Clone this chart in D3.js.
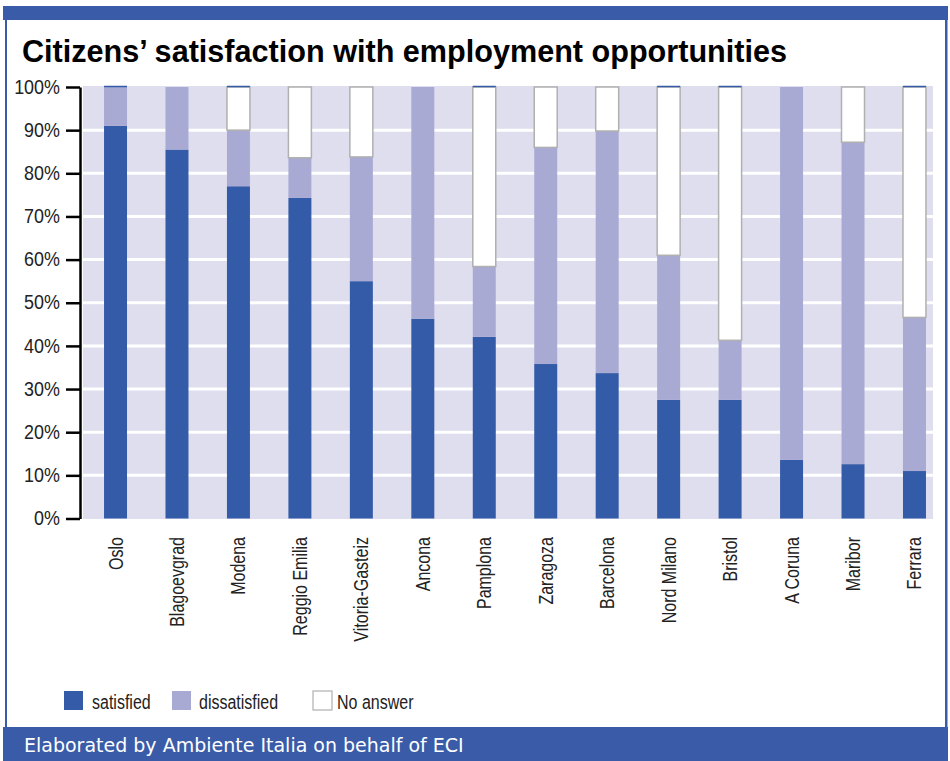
<!DOCTYPE html>
<html><head><meta charset="utf-8">
<script src="https://cdn.jsdelivr.net/npm/d3@7"></script>
<style>
body{margin:0;background:#fff;}
svg{display:block;}
.narrow{font-family:"Liberation Sans",Arial,sans-serif;}
</style></head>
<body>
<svg id="chart" width="950" height="761"></svg>
<script>
const title = "Citizens’ satisfaction with employment opportunities";
const footer = "Elaborated by Ambiente Italia on behalf of ECI";
const categories = ["Oslo","Blagoevgrad","Modena","Reggio Emilia","Vitoria-Gasteiz","Ancona","Pamplona","Zaragoza","Barcelona","Nord Milano","Bristol","A Coruna","Maribor","Ferrara"];
const seriesNames = ["satisfied","dissatisfied","No answer"];
const satisfied    = [91.0, 85.5, 77.0, 74.3, 55.0, 46.3, 42.1, 35.8, 33.7, 27.5, 27.5, 13.6, 12.6, 11.0];
const dissatisfied = [ 9.0, 14.5, 13.0,  9.3, 28.8, 53.7, 16.3, 50.2, 56.1, 33.5, 13.8, 86.4, 74.6, 35.6];
const noAnswer     = [ 0.0,  0.0, 10.0, 16.4, 16.2,  0.0, 41.6, 14.0, 10.2, 39.0, 58.7,  0.0, 12.8, 53.4];
const topCap       = [1,0,1,0,0,0,1,0,0,1,1,0,0,1];
const yTicks = [0,10,20,30,40,50,60,70,80,90,100];

const C_SAT = "#345ba7", C_DIS = "#a8aad4", C_NA = "#ffffff", C_BG = "#dedeee", C_FRAME = "#3a5ba8";
const svg = d3.select("#chart");

// frame
svg.append("rect").attr("x",3).attr("y",6).attr("width",945).attr("height",14).attr("fill",C_FRAME);
svg.append("rect").attr("x",5).attr("y",6).attr("width",2).attr("height",730).attr("fill",C_FRAME);
svg.append("rect").attr("x",945).attr("y",6).attr("width",2.5).attr("height",730).attr("fill",C_FRAME);
svg.append("rect").attr("x",3).attr("y",727).attr("width",945).attr("height",34).attr("fill",C_FRAME);
svg.append("text").attr("x",24).attr("y",752).attr("fill","#fff")
  .style("font-family","'DejaVu Sans',sans-serif").style("font-size","19px").text(footer);

svg.append("text").attr("class","narrow").attr("x",22).attr("y",62).attr("fill","#000")
  .attr("textLength",765).attr("lengthAdjust","spacingAndGlyphs")
  .style("font-size","32px").style("font-weight","bold").text(title);

// scales
const x = d3.scaleBand().domain(categories).range([84.8,945.2]).paddingInner(0.626).paddingOuter(0.313);
const y = d3.scaleLinear().domain([0,100]).range([518.5,87]);

// plot background
svg.append("rect").attr("x",83).attr("y",86).attr("width",850).attr("height",433).attr("fill",C_BG);
svg.append("g").selectAll("line").data(yTicks.filter(t=>t>0&&t<100)).join("line")
  .attr("x1",83).attr("x2",933).attr("y1",d=>y(d)).attr("y2",d=>y(d))
  .attr("stroke","#fff").attr("stroke-width",3);

// stacked data
const rows = categories.map((c,i)=>({cat:c, "satisfied":satisfied[i], "dissatisfied":dissatisfied[i], "No answer":noAnswer[i]}));
const stack = d3.stack().keys(seriesNames)(rows);
const colors = {"satisfied":C_SAT,"dissatisfied":C_DIS,"No answer":C_NA};
stack.forEach(layer=>{
  const g = svg.append("g");
  g.selectAll("rect").data(layer.filter(d=>d[1]-d[0]>0.01)).join("rect")
    .attr("x",d=>x(d.data.cat)).attr("width",x.bandwidth())
    .attr("y",d=>y(d[1])).attr("height",d=>y(d[0])-y(d[1]))
    .attr("fill",colors[layer.key])
    .attr("stroke",layer.key==="No answer"?"#b0b0b0":"none")
    .attr("stroke-width",layer.key==="No answer"?1.5:0);
});
// thin caps
svg.append("g").selectAll("line").data(categories.filter((c,i)=>topCap[i])).join("line")
  .attr("x1",d=>x(d)).attr("x2",d=>x(d)+x.bandwidth()).attr("y1",y(100)-0.5).attr("y2",y(100)-0.5)
  .attr("stroke",C_SAT).attr("stroke-width",1.5);

// y axis
const ax = svg.append("g").attr("transform","translate(80,0)")
  .call(d3.axisLeft(y).tickValues(yTicks).tickFormat(d=>d+"%").tickSize(14).tickSizeOuter(0).tickPadding(6));
ax.select(".domain").attr("stroke","#000").attr("stroke-width",2.5);
ax.selectAll(".tick line").attr("stroke","#000").attr("stroke-width",2.5);
ax.selectAll(".tick text").attr("class","narrow").attr("fill","#222").style("font-size","19.5px")
  .attr("x",0).attr("transform","translate(-20,0) scale(0.92,1)");

// category labels
svg.append("g").selectAll("text").data(categories).join("text").attr("class","narrow")
  .attr("transform",d=>`translate(${x(d)+x.bandwidth()/2},537) rotate(-90) scale(0.8,1)`)
  .attr("text-anchor","end").attr("dy","0.35em").attr("fill","#222")
  .style("font-size","20px").text(d=>d);

// legend
const legX = [64,172,313];
const legTX = [92,199,337];
const lg = svg.append("g");
seriesNames.forEach((s,i)=>{
  lg.append("rect").attr("x",legX[i]).attr("y",691).attr("width",19).attr("height",19)
    .attr("fill",colors[s]).attr("stroke",s==="No answer"?"#b0b0b0":"none").attr("stroke-width",1.2);
  lg.append("text").attr("class","narrow").attr("transform",`translate(${legTX[i]},709) scale(0.8,1)`)
    .attr("fill","#222").style("font-size","20px").text(s);
});
</script>
</body></html>
